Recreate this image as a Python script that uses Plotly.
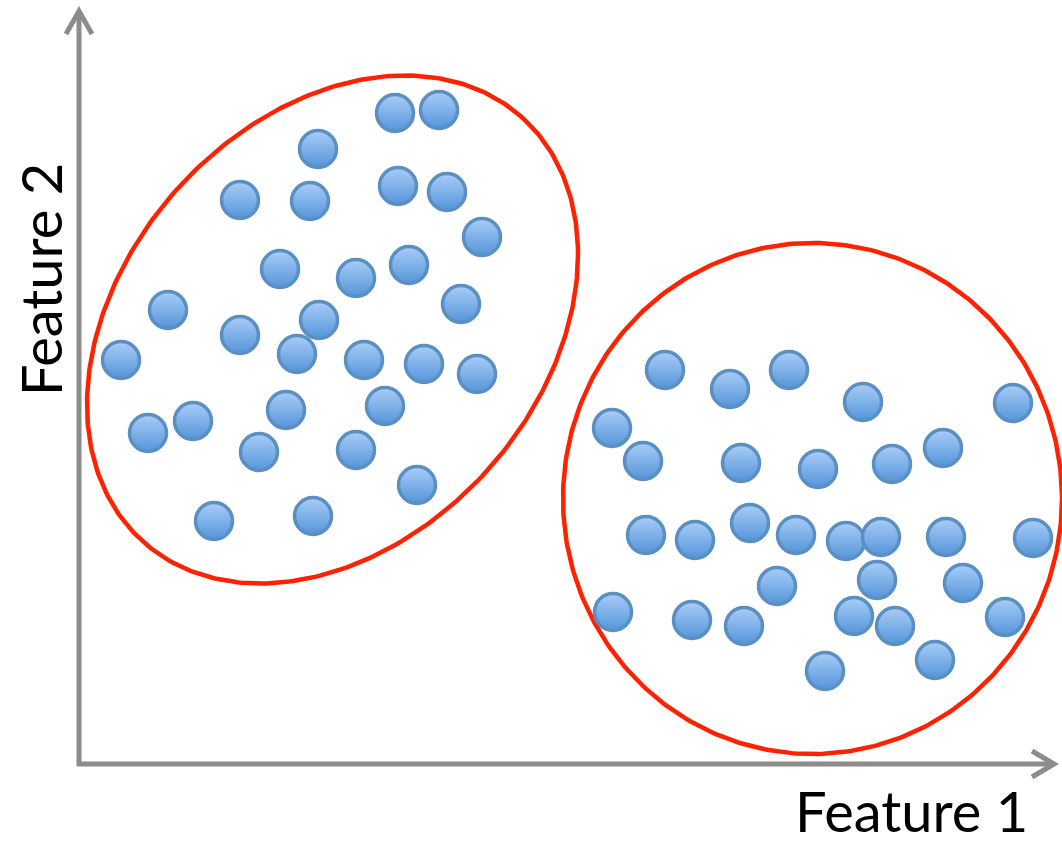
import numpy as np
import plotly.graph_objects as go

# Cluster A (upper-left), positions in picture units (x right, y down)
a_x = [395, 439, 318, 240, 310, 398, 447, 482, 280, 356, 409, 168, 461, 240, 319,
       121, 297, 364, 424, 477, 148, 193, 286, 385, 259, 356, 417, 214, 313]
a_y = [113, 110, 149, 200, 201, 186, 192, 237, 269, 278, 265, 310, 304, 335, 320,
       360, 354, 360, 364, 374, 433, 421, 410, 406, 452, 450, 485, 521, 516]

# Cluster B (lower-right)
b_x = [665, 730, 789, 863, 1013, 612, 643, 741, 818, 892, 943, 646, 695, 750, 796,
       846, 881, 946, 1033, 777, 877, 963, 613, 692, 744, 854, 895, 1005, 825, 935]
b_y = [370, 389, 370, 402, 403, 428, 461, 463, 469, 464, 448, 535, 540, 523, 535,
       541, 537, 537, 538, 586, 580, 583, 612, 620, 626, 616, 626, 617, 671, 660]

# Cluster outlines: center and covariance-like extents
ell_a = dict(cx=332.5, cy=329.5, sxx=245.5 ** 2, syy=254.0 ** 2, sxy=-18415.0)
ell_b = dict(cx=812.5, cy=498.5, sxx=249.5 ** 2, syy=255.5 ** 2, sxy=0.0)

W, H = 1062, 845


def ellipse(p, n=400):
    t = np.linspace(0, 2 * np.pi, n)
    sx = np.sqrt(p["sxx"])
    k = p["sxy"] / sx
    r = np.sqrt(p["syy"] - k ** 2)
    x = p["cx"] + sx * np.cos(t)
    y = p["cy"] + k * np.cos(t) + r * np.sin(t)
    return x, y


fig = go.Figure()

for p in (ell_a, ell_b):
    ex, ey = ellipse(p)
    fig.add_trace(go.Scatter(x=ex, y=ey, mode="lines",
                             line=dict(color="#ff2200", width=4.5),
                             hoverinfo="skip", showlegend=False))

marker_common = dict(size=37, color="#a9cdf7",
                     gradient=dict(type="vertical", color="#5595da"),
                     line=dict(color="#5a8fc3", width=3.5))
fig.add_trace(go.Scatter(x=a_x, y=a_y, mode="markers", showlegend=False,
                         marker=marker_common))
fig.add_trace(go.Scatter(x=b_x, y=b_y, mode="markers", showlegend=False,
                         marker=marker_common))

axis_col = "#8c8c8c"
shapes = [
    dict(type="line", x0=79, y0=766, x1=79, y1=12, line=dict(color=axis_col, width=5)),
    dict(type="line", x0=77, y0=764, x1=1053, y1=764, line=dict(color=axis_col, width=5)),
    dict(type="path", path="M 66 34 L 79 11 L 92 34",
         line=dict(color=axis_col, width=5)),
    dict(type="path", path="M 1032 751 L 1054 764 L 1032 777",
         line=dict(color=axis_col, width=5)),
]

fig.update_layout(
    width=W, height=H,
    margin=dict(l=0, r=0, t=0, b=0),
    paper_bgcolor="white", plot_bgcolor="white",
    xaxis=dict(range=[0, W], visible=False, fixedrange=True),
    yaxis=dict(range=[H, 0], visible=False, fixedrange=True),
    shapes=shapes,
    annotations=[
        dict(text="Feature 1", x=911, y=810, xref="x", yref="y", showarrow=False,
             font=dict(family="Lato", size=56, color="black"), borderpad=0,
             xanchor="center", yanchor="middle"),
        dict(text="Feature 2", x=40, y=280, xref="x", yref="y", showarrow=False,
             textangle=-90, borderpad=0,
             font=dict(family="Lato", size=56, color="black"),
             xanchor="center", yanchor="middle"),
    ],
)

fig.write_html("out.html", config={"displayModeBar": False},
               post_script="document.body.style.margin='0';document.body.style.overflow='hidden';")
